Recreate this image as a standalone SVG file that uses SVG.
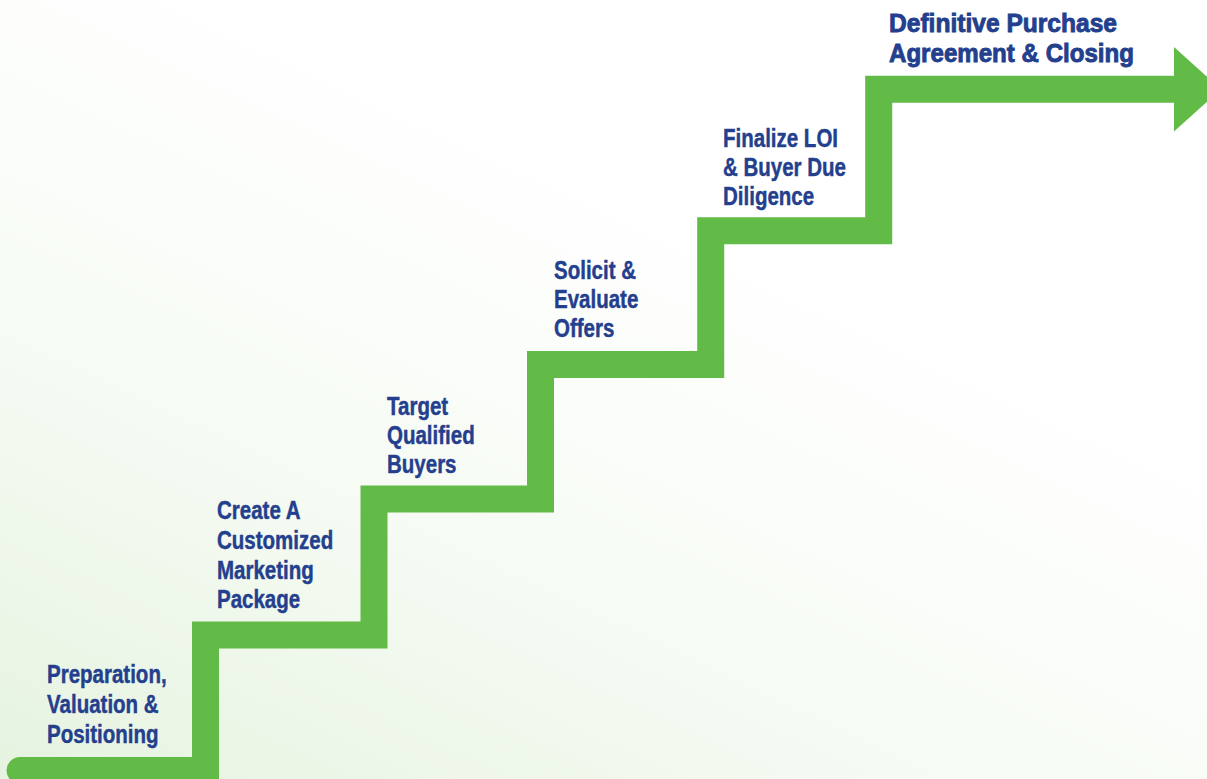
<svg xmlns="http://www.w3.org/2000/svg" width="1207" height="779" viewBox="0 0 1207 779">
  <defs>
    <linearGradient id="bg" x1="0" y1="1" x2="0.55" y2="0.25">
      <stop offset="0" stop-color="#e6f3e0"/>
      <stop offset="0.5" stop-color="#f6fbf4"/>
      <stop offset="1" stop-color="#ffffff"/>
    </linearGradient>
    <style>
      .stair { fill: none; stroke: #62bb47; stroke-width: 27; stroke-linejoin: miter; stroke-linecap: round; }
      .head { fill: #62bb47; }
      .lbl { font-family: "Liberation Sans", Arial, sans-serif; font-weight: bold; font-size: 25px; fill: #233f8d; stroke: #233f8d; stroke-width: 0.45; }
      .big { font-size: 26px; stroke-width: 0.9; }
    </style>
  </defs>
  <rect width="1207" height="779" fill="url(#bg)"/>
  <g id="connectors">
    <path class="stair" d="M 20 770.5 H 205.5 V 635 H 374 V 499 H 540.5 V 364.5 H 710.7 V 230.7 H 878.7 V 89.3 H 1178"/>
    <polygon class="head" points="1174,47 1221,89.3 1174,131.5"/>
  </g>
  <g id="step1" transform="translate(47 0) scale(0.82 1)">
    <text class="lbl" x="0" y="683">Preparation,</text>
    <text class="lbl" x="0" y="713">Valuation &amp;</text>
    <text class="lbl" x="0" y="743">Positioning</text>
  </g>
  <g id="step2" transform="translate(217 0) scale(0.82 1)">
    <text class="lbl" x="0" y="519">Create A</text>
    <text class="lbl" x="0" y="549">Customized</text>
    <text class="lbl" x="0" y="579">Marketing</text>
    <text class="lbl" x="0" y="608">Package</text>
  </g>
  <g id="step3" transform="translate(387 0) scale(0.82 1)">
    <text class="lbl" x="0" y="415">Target</text>
    <text class="lbl" x="0" y="444">Qualified</text>
    <text class="lbl" x="0" y="473">Buyers</text>
  </g>
  <g id="step4" transform="translate(554 0) scale(0.82 1)">
    <text class="lbl" x="0" y="279">Solicit &amp;</text>
    <text class="lbl" x="0" y="308">Evaluate</text>
    <text class="lbl" x="0" y="337">Offers</text>
  </g>
  <g id="step5" transform="translate(723 0) scale(0.82 1)">
    <text class="lbl" x="0" y="147">Finalize LOI</text>
    <text class="lbl" x="0" y="176.5">&amp; Buyer Due</text>
    <text class="lbl" x="0" y="205">Diligence</text>
  </g>
  <g id="step6">
    <text class="lbl big" x="889" y="31.5" textLength="228" lengthAdjust="spacingAndGlyphs">Definitive Purchase</text>
    <text class="lbl big" x="889" y="61.5" textLength="245" lengthAdjust="spacingAndGlyphs">Agreement &amp; Closing</text>
  </g>
</svg>
